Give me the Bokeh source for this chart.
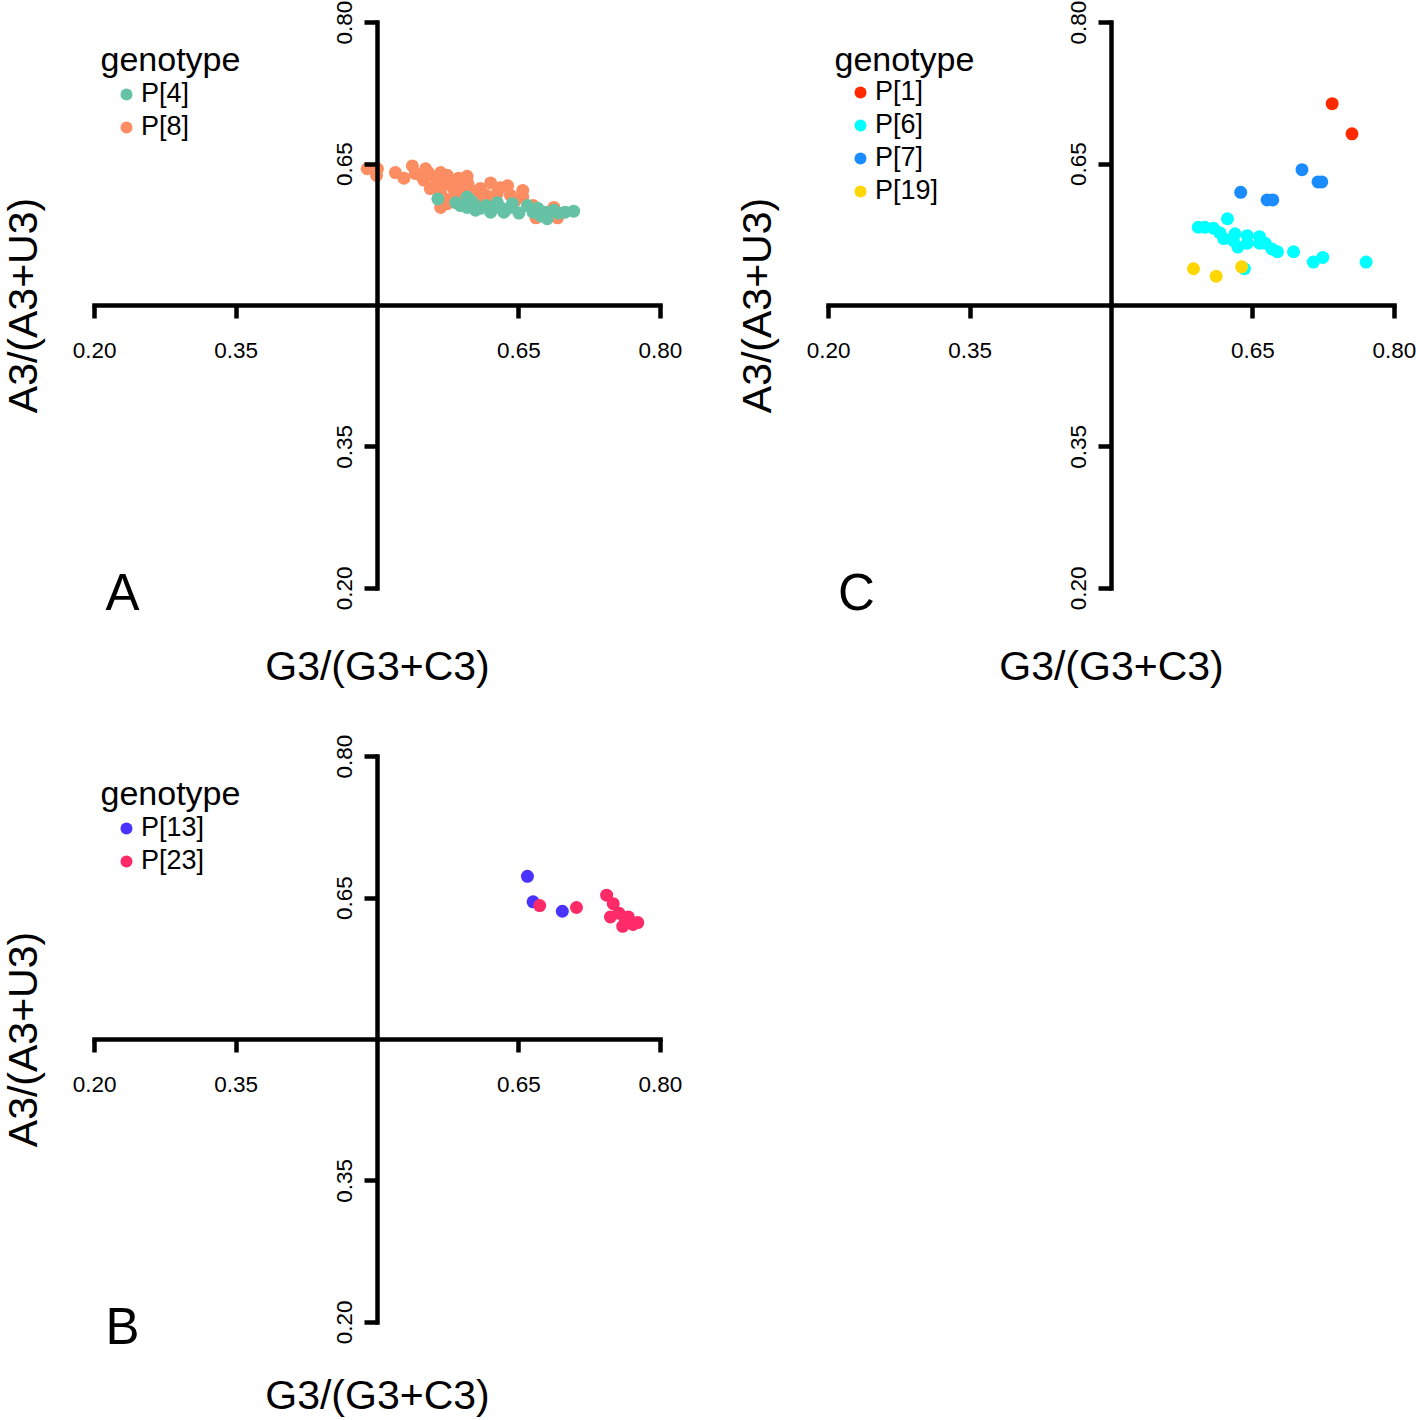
import math
from bokeh.plotting import figure
from bokeh.models import (FixedTicker, Label, Legend, LegendItem, Range1d,
                          NumeralTickFormatter)
from bokeh.layouts import column, row
from bokeh.embed import file_html
from bokeh.resources import INLINE

FONT = "Liberation Sans"

# ---------------- data ----------------
tick_values = [0.20, 0.35, 0.65, 0.80]
x_title = "G3/(G3+C3)"
y_title = "A3/(A3+U3)"
legend_title = "genotype"

# Panel A
p4_x = [0.564, 0.583, 0.595, 0.599, 0.602, 0.604, 0.615, 0.620, 0.627, 0.634,
        0.641, 0.643, 0.650, 0.665, 0.670, 0.678, 0.680, 0.687, 0.692, 0.699,
        0.708, 0.588, 0.595, 0.609, 0.630, 0.659, 0.673]
p4_y = [0.613, 0.609, 0.615, 0.611, 0.608, 0.601, 0.606, 0.599, 0.609, 0.599,
        0.604, 0.608, 0.598, 0.599, 0.603, 0.599, 0.592, 0.601, 0.598, 0.599,
        0.600, 0.606, 0.604, 0.603, 0.604, 0.606, 0.595]
p8_x = [0.489, 0.500, 0.499, 0.519, 0.528, 0.537, 0.540, 0.549, 0.554, 0.562,
        0.567, 0.572, 0.574, 0.580, 0.586, 0.588, 0.595, 0.599, 0.606, 0.609,
        0.620, 0.627, 0.630, 0.638, 0.654, 0.665, 0.673, 0.687, 0.691, 0.567,
        0.567, 0.574, 0.577, 0.588, 0.556, 0.546, 0.583, 0.591, 0.615, 0.641,
        0.551, 0.565, 0.596, 0.668, 0.654, 0.646, 0.622, 0.599]
p8_y = [0.645, 0.645, 0.638, 0.641, 0.635, 0.648, 0.640, 0.633, 0.641, 0.635,
        0.641, 0.629, 0.638, 0.625, 0.635, 0.622, 0.637, 0.622, 0.615, 0.624,
        0.630, 0.619, 0.625, 0.627, 0.615, 0.606, 0.599, 0.604, 0.593, 0.619,
        0.604, 0.608, 0.613, 0.615, 0.624, 0.638, 0.629, 0.629, 0.617, 0.617,
        0.645, 0.627, 0.629, 0.593, 0.622, 0.611, 0.608, 0.606]

# Panel C
p1_x = [0.734, 0.755]
p1_y = [0.714, 0.682]
p6_x = [0.592, 0.599, 0.623, 0.608, 0.615, 0.619, 0.631, 0.629, 0.644, 0.644,
        0.634, 0.657, 0.657, 0.663, 0.670, 0.676, 0.693, 0.714, 0.724, 0.770,
        0.641]
p6_y = [0.583, 0.583, 0.592, 0.582, 0.577, 0.571, 0.576, 0.569, 0.574, 0.566,
        0.562, 0.573, 0.566, 0.566, 0.560, 0.557, 0.557, 0.546, 0.551, 0.546,
        0.539]
p7_x = [0.702, 0.719, 0.723, 0.637, 0.665, 0.671]
p7_y = [0.644, 0.631, 0.631, 0.620, 0.612, 0.612]
p19_x = [0.587, 0.611, 0.638]
p19_y = [0.539, 0.531, 0.541]

# Panel B
p13_x = [0.659, 0.665, 0.696]
p13_y = [0.673, 0.646, 0.636]
p23_x = [0.672, 0.711, 0.743, 0.750, 0.747, 0.756, 0.760, 0.766, 0.776, 0.771,
         0.763]
p23_y = [0.642, 0.640, 0.653, 0.644, 0.630, 0.634, 0.620, 0.630, 0.624, 0.622,
         0.627]

# series: (label, x, y, colour) in drawing order; legend order separately
panel_a = [("P[8]", p8_x, p8_y, "#fc8d62"), ("P[4]", p4_x, p4_y, "#66c2a5")]
panel_a_legend = ["P[4]", "P[8]"]
panel_c = [("P[6]", p6_x, p6_y, "#00ffff"), ("P[7]", p7_x, p7_y, "#1a8cff"),
           ("P[1]", p1_x, p1_y, "#ff2a00"), ("P[19]", p19_x, p19_y, "#ffd700")]
panel_c_legend = ["P[1]", "P[6]", "P[7]", "P[19]"]
panel_b = [("P[13]", p13_x, p13_y, "#4b33ff"), ("P[23]", p23_x, p23_y, "#ff2a68")]
panel_b_legend = ["P[13]", "P[23]"]

# ---------------- layout ----------------
SCALE = 943.0   # px per unit
CX, CY = 377, 305  # px position of (0.5, 0.5) from figure's top-left


def make_panel(series, legend_order, letter, W, H, xtitle_y):
    xr = Range1d(0.5 - CX / SCALE, 0.5 + (W - CX) / SCALE)
    yr = Range1d(0.5 - (H - CY) / SCALE, 0.5 + CY / SCALE)
    p = figure(width=W, height=H, x_range=xr, y_range=yr,
               output_backend="svg", toolbar_location=None,
               min_border=0, outline_line_color=None,
               background_fill_color="white", border_fill_color="white")
    p.grid.visible = False

    for ax in (p.xaxis[0], p.yaxis[0]):
        ax.fixed_location = 0.5
        ax.bounds = (0.2, 0.8)
        ax.ticker = FixedTicker(ticks=tick_values, minor_ticks=[])
        ax.formatter = NumeralTickFormatter(format="0.00")
        ax.axis_line_width = 4.5
        ax.axis_line_color = "black"
        ax.axis_line_cap = "square"
        ax.major_tick_line_width = 4.5
        ax.major_tick_line_color = "black"
        ax.major_tick_in = 0
        ax.major_tick_out = 13
        ax.minor_tick_line_color = None
        ax.major_label_text_font = FONT
        ax.major_label_text_font_size = "22.5px"
        ax.major_label_text_color = "black"
    p.xaxis[0].major_label_standoff = 24
    p.yaxis[0].major_label_standoff = 12
    p.yaxis[0].major_label_orientation = "vertical"

    renderers = {}
    for lab, xs, ys, col in series:
        r = p.scatter(xs, ys, size=13, fill_color=col, line_color=None)
        renderers[lab] = r

    items = [LegendItem(label=lab, renderers=[renderers[lab]]) for lab in legend_order]
    n = len(items)
    first_center = 95
    last_bottom = first_center + 32 * (n - 1) + 15
    legend = Legend(items=items, location=(111, H - last_bottom),
                    background_fill_alpha=0, border_line_color=None,
                    padding=0, margin=0, spacing=2,
                    glyph_width=30, glyph_height=30, label_height=30,
                    label_standoff=0,
                    label_text_font=FONT, label_text_font_size="27px",
                    label_text_color="black")
    p.add_layout(legend)

    p.add_layout(Label(x=0.2063, y=0.7619, text=legend_title, text_font=FONT,
                       text_font_size="34px", text_align="left",
                       text_baseline="middle", text_color="black"))
    p.add_layout(Label(x=0.2296, y=0.1957, text=letter, text_font=FONT,
                       text_font_size="51px", text_align="center",
                       text_baseline="middle", text_color="black"))
    p.add_layout(Label(x=0.5, y=xtitle_y, text=x_title, text_font=FONT,
                       text_font_size="41px", text_align="center",
                       text_baseline="middle", text_color="black"))
    p.add_layout(Label(x=0.1245, y=0.5, text=y_title, text_font=FONT,
                       text_font_size="41px", text_align="center",
                       text_baseline="middle", angle=math.pi / 2,
                       text_color="black"))
    return p


pA = make_panel(panel_a, panel_a_legend, "A", 734, 734, 0.1182)
pC = make_panel(panel_c, panel_c_legend, "C", 682, 734, 0.1182)
pB = make_panel(panel_b, panel_b_legend, "B", 734, 686, 0.1225)

layout = column(row(pA, pC), pB)
open("out.html", "w").write(file_html(layout, INLINE))
